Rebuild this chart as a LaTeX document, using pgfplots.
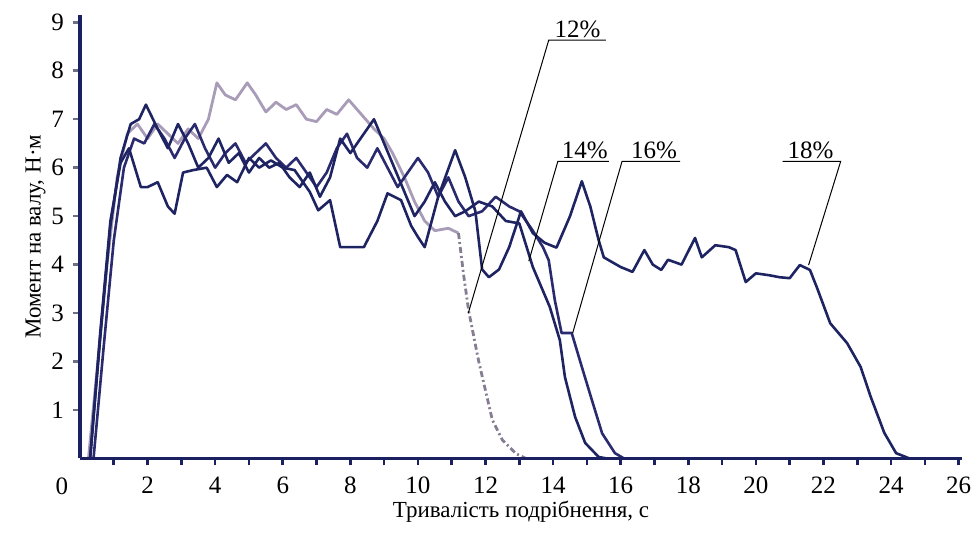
\documentclass[border=0pt]{standalone}
\usepackage{pgfplots}
\pgfplotsset{compat=1.18}
\usepackage{fontspec}
\setmainfont{Liberation Serif}
\definecolor{navy}{HTML}{1E2462}
\definecolor{navyp}{HTML}{2A2A6E}
\definecolor{lightc}{HTML}{A89CB8}
\definecolor{axc}{HTML}{1B2160}
\definecolor{tickc}{HTML}{6E7085}
\begin{document}
\begin{tikzpicture}
\begin{axis}[
  scale only axis,
  width=441pt, height=221.75pt,
  xmin=0, xmax=26.1, ymin=0, ymax=9.15,
  axis x line*=bottom, axis y line*=left,
  x axis line style={line width=1.8pt, color=axc},
  y axis line style={line width=2.3pt, color=axc},
  xtick={2,4,...,26}, minor xtick={1,3,...,25},
  ytick={1,...,9},
  tick align=outside,
  major tick length=3.5pt, minor tick length=3.5pt,
  x tick style={line width=1.3pt, color=axc},
  y tick style={line width=1.3pt, color=tickc},
  tick label style={font=\fontsize{12.5}{14}\selectfont, black},
  xticklabel style={yshift=-2pt},
  yticklabel style={xshift=-1pt},
  /pgf/number format/assume math mode=true,
  xlabel={Тривалість подрібнення, с},
  ylabel={Момент на валу, Н·м},
  label style={font=\fontsize{11.5}{13}\selectfont},
  xlabel style={yshift=3pt},
  ylabel style={yshift=-4pt},
  clip=false,
  every axis plot/.append style={line join=round, line cap=butt},
]
% 12% (light) solid part
\addplot[lightc, line width=1.4pt] coordinates {
(0.25,0) (0.5,1.8) (0.8,4.0) (1.1,5.8) (1.4,6.7) (1.7,6.9) (2.0,6.6) (2.3,6.9) (2.6,6.7) (2.9,6.5) (3.2,6.8) (3.5,6.6) (3.8,7.0) (4.05,7.75) (4.3,7.5) (4.6,7.4) (4.95,7.75) (5.2,7.5) (5.5,7.15) (5.8,7.35) (6.1,7.2) (6.4,7.3) (6.7,7.0) (7.0,6.95) (7.3,7.2) (7.6,7.1) (7.95,7.4) (8.2,7.2) (8.45,7.0) (8.7,6.8) (9.0,6.6) (9.25,6.3) (9.6,5.8) (9.9,5.3) (10.2,4.9) (10.5,4.7) (10.9,4.75) (11.2,4.65)
};
% 12% dashed descent
\addplot[lightc!80!black, line width=1.4pt, dash pattern=on 3pt off 1.5pt on 1pt off 1.5pt] coordinates {
(11.2,4.65) (11.35,3.8) (11.5,3.05) (11.8,2.0) (12.0,1.4) (12.2,0.8) (12.5,0.38) (12.9,0.1) (13.2,0)
};
% 16%
\addplot[navyp, line width=1.3pt] coordinates {
(0.4,0) (0.7,2.3) (1.0,4.5) (1.3,6.0) (1.6,6.6) (1.9,6.5) (2.2,6.9) (2.5,6.6) (2.8,6.2) (3.1,6.6) (3.4,6.9) (3.7,6.4) (4.0,6.0) (4.3,6.3) (4.6,6.5) (4.9,6.1) (5.2,6.3) (5.5,6.5) (5.8,6.2) (6.1,6.0) (6.4,6.2) (6.7,5.9) (7.0,5.6) (7.3,5.9) (7.6,6.4) (7.9,6.7) (8.2,6.2) (8.5,6.0) (8.8,6.4) (9.1,6.0) (9.4,5.6) (9.7,5.9) (10.0,6.2) (10.3,5.9) (10.6,5.4) (10.9,5.8) (11.2,5.3) (11.5,5.0) (11.9,5.1) (12.3,5.4) (12.7,5.2) (13.0,5.1) (13.4,4.7) (13.7,4.36) (13.87,4.09) (14.05,3.27) (14.25,2.59) (14.55,2.59) (14.85,1.89) (15.15,1.2) (15.45,0.52) (15.83,0.11) (16.1,0)
};
% 14%
\addplot[navy, line width=1.3pt] coordinates {
(0.3,0) (0.6,2.5) (0.9,4.8) (1.2,6.2) (1.5,6.9) (1.75,7.0) (1.95,7.3) (2.3,6.8) (2.6,6.4) (2.9,6.9) (3.2,6.5) (3.5,6.0) (3.8,6.2) (4.1,6.6) (4.4,6.1) (4.7,6.3) (5.0,5.9) (5.3,6.2) (5.6,6.0) (5.9,6.1) (6.2,5.8) (6.5,5.6) (6.8,5.9) (7.1,5.4) (7.4,5.8) (7.7,6.6) (8.0,6.3) (8.3,6.6) (8.7,7.0) (9.0,6.5) (9.3,6.0) (9.6,5.5) (9.9,5.0) (10.2,5.3) (10.5,5.7) (10.8,5.3) (11.1,5.0) (11.4,5.1) (11.8,5.3) (12.2,5.2) (12.6,4.9) (13.0,4.85) (13.4,3.95) (13.9,3.13) (14.2,2.44) (14.35,1.68) (14.65,0.86) (14.95,0.32) (15.35,0.03) (15.6,0)
};
% 18%
\addplot[navy, line width=1.3pt] coordinates {
(0.3,0) (0.6,2.6) (0.9,4.9) (1.2,6.1) (1.45,6.4) (1.8,5.6) (2.0,5.6) (2.3,5.7) (2.6,5.2) (2.8,5.05) (3.05,5.9) (3.35,5.95) (3.75,6.0) (4.05,5.6) (4.35,5.85) (4.65,5.7) (5.0,6.2) (5.3,6.0) (5.65,6.15) (6.0,6.0) (6.35,5.95) (6.8,5.5) (7.05,5.12) (7.4,5.33) (7.7,4.36) (8.4,4.36) (8.8,4.9) (9.1,5.47) (9.5,5.33) (9.8,4.8) (10.0,4.57) (10.2,4.36) (10.6,5.4) (11.1,6.36) (11.4,5.8) (11.7,5.1) (11.9,3.9) (12.1,3.74) (12.4,3.9) (12.7,4.36) (13.05,5.1) (13.4,4.65) (13.75,4.45) (14.1,4.35) (14.5,5.0) (14.85,5.72) (15.1,5.2) (15.35,4.5) (15.5,4.15) (16.0,3.95) (16.35,3.85) (16.7,4.3) (16.95,4.0) (17.2,3.89) (17.4,4.1) (17.8,4.0) (18.2,4.55) (18.4,4.15) (18.8,4.4) (19.2,4.36) (19.4,4.3) (19.7,3.64) (20.0,3.82) (20.4,3.78) (20.7,3.74) (21.0,3.72) (21.3,3.99) (21.6,3.89) (21.8,3.54) (22.2,2.79) (22.7,2.38) (23.1,1.89) (23.4,1.27) (23.8,0.53) (24.15,0.11) (24.55,0) (26,0)
};
% leader lines and labels
\draw[black, line width=0.5pt] (axis cs:15.56,8.63) -- (axis cs:13.87,8.63) -- (axis cs:11.49,3.0);
\node[anchor=south, inner sep=1pt, font=\fontsize{12.5}{14}\selectfont] at (axis cs:14.72,8.63) {12\%};
\draw[black, line width=0.5pt] (axis cs:15.65,6.13) -- (axis cs:14.14,6.13) -- (axis cs:13.28,4.07);
\node[anchor=south, inner sep=1pt, font=\fontsize{12.5}{14}\selectfont] at (axis cs:14.94,6.13) {14\%};
\draw[black, line width=0.5pt] (axis cs:17.76,6.13) -- (axis cs:16.04,6.13) -- (axis cs:14.58,2.59);
\node[anchor=south, inner sep=1pt, font=\fontsize{12.5}{14}\selectfont] at (axis cs:16.99,6.13) {16\%};
\draw[black, line width=0.5pt] (axis cs:20.79,6.13) -- (axis cs:22.51,6.13) -- (axis cs:21.56,3.99);
\node[anchor=south, inner sep=1pt, font=\fontsize{12.5}{14}\selectfont] at (axis cs:21.62,6.13) {18\%};
\node[font=\fontsize{12.5}{14}\selectfont] at ([xshift=-9pt,yshift=-14pt]axis cs:0,0) {0};
\draw[axc, line width=1.8pt] (axis cs:0,0) -- (axis cs:26.1,0);
\coordinate (O) at (axis cs:0,0);
\end{axis}
\pgfresetboundingbox
\path (O) ++(-40pt,-38.25pt) rectangle ++(487pt,267.5pt);
\end{tikzpicture}
\end{document}
